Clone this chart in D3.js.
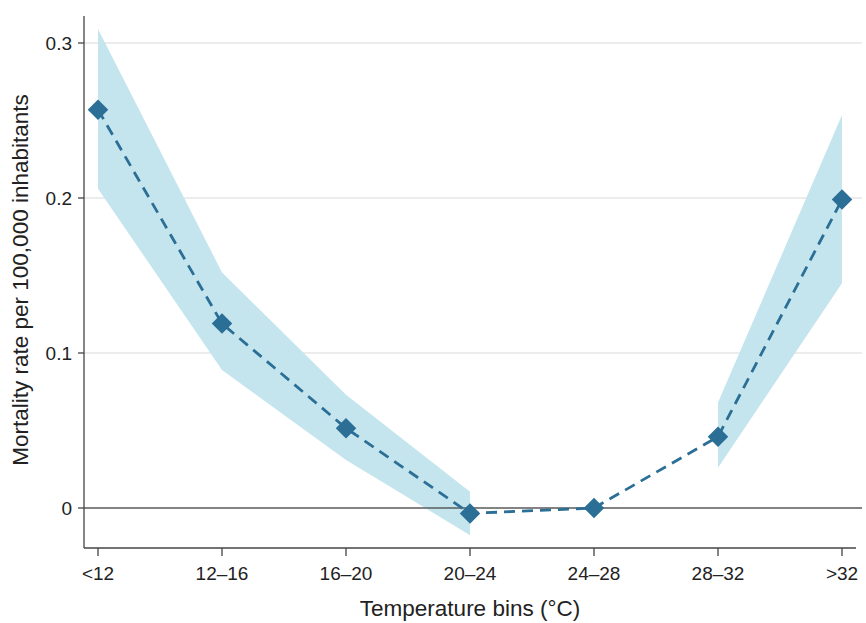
<!DOCTYPE html>
<html>
<head>
<meta charset="utf-8">
<script src="https://cdn.jsdelivr.net/npm/d3@7"></script>
<style>
  html, body { margin: 0; padding: 0; background: #fff; }
  svg { display: block; font-family: "Liberation Sans", Arial, Helvetica, sans-serif; }
</style>
</head>
<body>
<svg id="chart" width="866" height="623"></svg>
<script>
// Temperature bins and estimated mortality effects
const bins = ["<12", "12\u201316", "16\u201320", "20\u201324", "24\u201328", "28\u201332", ">32"];
const estimate = [0.257, 0.119, 0.0515, -0.0035, 0, 0.046, 0.199];
const ciLow  = [0.206, 0.089, 0.031, -0.0175, null, 0.026, 0.145];
const ciHigh = [0.309, 0.152, 0.073, 0.0105, null, 0.068, 0.2535];
const yTicks = [0, 0.1, 0.2, 0.3];
const yTickLabels = ["0", "0.1", "0.2", "0.3"];

const W = 866, H = 623;
const plot = { left: 84, right: 862, top: 16, bottom: 548 };

const svg = d3.select("#chart");

const x = d3.scalePoint().domain(bins).range([98, 842]);
const y = d3.scaleLinear().domain([0, 0.3]).range([508, 43]);

// Horizontal grid lines
svg.append("g").selectAll("line")
  .data(yTicks.filter(d => d !== 0))
  .join("line")
  .attr("x1", plot.left).attr("x2", plot.right)
  .attr("y1", d => y(d)).attr("y2", d => y(d))
  .attr("stroke", "#dadada").attr("stroke-width", 1.2);

// Confidence bands (two separate segments, none around the reference bin)
const rows = bins.map((b, i) => ({ b, est: estimate[i], lo: ciLow[i], hi: ciHigh[i] }));
const area = d3.area()
  .defined(d => d.lo !== null)
  .x(d => x(d.b))
  .y0(d => y(d.lo))
  .y1(d => y(d.hi));
svg.append("path")
  .datum(rows)
  .attr("d", area)
  .attr("fill", "#c4e5ed");

// Zero reference line
svg.append("line")
  .attr("x1", plot.left).attr("x2", plot.right)
  .attr("y1", y(0)).attr("y2", y(0))
  .attr("stroke", "#5a5a5a").attr("stroke-width", 1.4);

// Dashed connecting line
const line = d3.line().x(d => x(d.b)).y(d => y(d.est));
svg.append("path")
  .datum(rows)
  .attr("d", line)
  .attr("fill", "none")
  .attr("stroke", "#2b6e96")
  .attr("stroke-width", 2.8)
  .attr("stroke-dasharray", "11,7");

// Diamond markers
const diamond = d3.symbol().type(d3.symbolSquare).size(210);
svg.append("g").selectAll("path")
  .data(rows)
  .join("path")
  .attr("d", diamond)
  .attr("transform", d => `translate(${x(d.b)},${y(d.est)}) rotate(45)`)
  .attr("fill", "#2b6e96");

// Axes
const yAxis = svg.append("g").attr("transform", `translate(${plot.left},0)`);
yAxis.append("line")
  .attr("x1", 0).attr("x2", 0).attr("y1", plot.top).attr("y2", plot.bottom)
  .attr("stroke", "#444").attr("stroke-width", 1.3);
const yt = yAxis.selectAll("g.tick").data(yTicks).join("g")
  .attr("class", "tick")
  .attr("transform", d => `translate(0,${y(d)})`);
yt.append("line").attr("x1", -6).attr("x2", 0).attr("stroke", "#444").attr("stroke-width", 1.3);
yt.append("text")
  .attr("x", -12).attr("dy", "0.36em")
  .attr("text-anchor", "end")
  .attr("font-size", 19).attr("fill", "#222")
  .text((d, i) => yTickLabels[i]);

const xAxis = svg.append("g").attr("transform", `translate(0,${plot.bottom})`);
xAxis.append("line")
  .attr("x1", plot.left).attr("x2", plot.right - 6)
  .attr("stroke", "#444").attr("stroke-width", 1.3);
const xt = xAxis.selectAll("g.tick").data(bins).join("g")
  .attr("class", "tick")
  .attr("transform", d => `translate(${x(d)},0)`);
xt.append("line").attr("y1", 0).attr("y2", 8).attr("stroke", "#444").attr("stroke-width", 1.3);
xt.append("text")
  .attr("y", 32)
  .attr("text-anchor", "middle")
  .attr("font-size", 19).attr("fill", "#222")
  .text(d => d);

// Axis titles
svg.append("text")
  .attr("x", 470).attr("y", 616)
  .attr("text-anchor", "middle")
  .attr("font-size", 22.5).attr("fill", "#222")
  .text("Temperature bins (\u00B0C)");

svg.append("text")
  .attr("transform", `translate(28,280) rotate(-90)`)
  .attr("text-anchor", "middle")
  .attr("font-size", 22.5).attr("fill", "#222")
  .text("Mortality rate per 100,000 inhabitants");
</script>
</body>
</html>
